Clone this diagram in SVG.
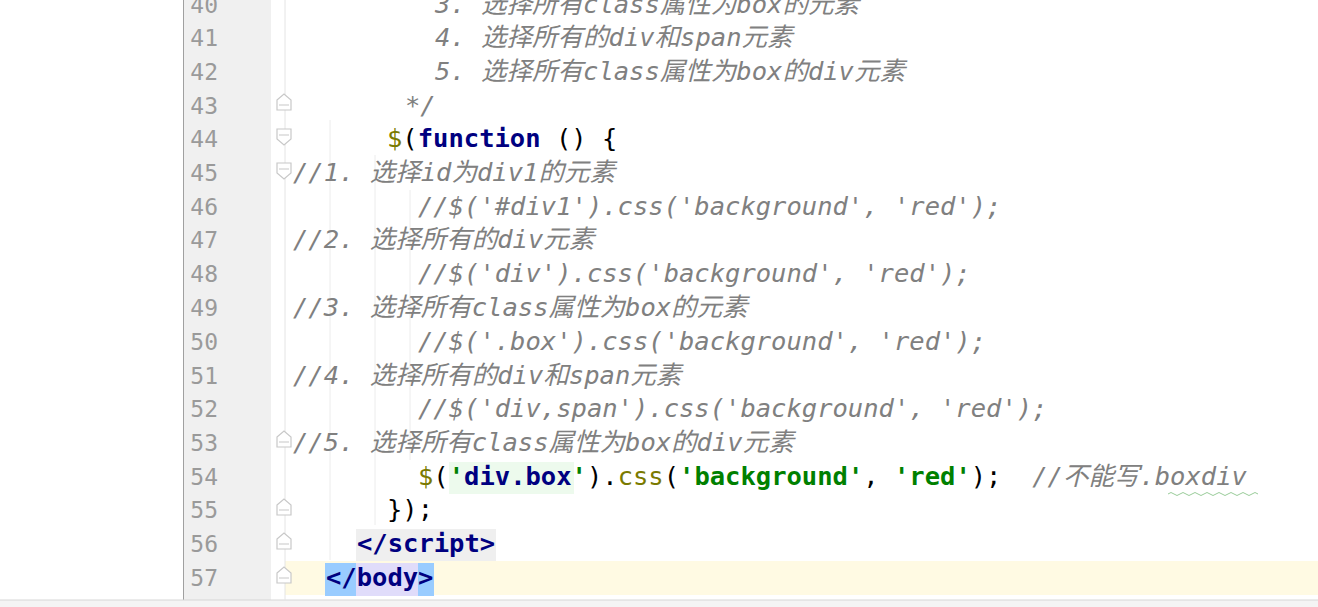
<svg xmlns="http://www.w3.org/2000/svg" width="1318" height="607" viewBox="0 0 1318 607">
<style>
text{font-family:"DejaVu Sans Mono","Liberation Mono","Noto Sans CJK SC",monospace;font-size:25.5px;white-space:pre}
.n{fill:#9a9a9a;text-anchor:end;font-size:23px}
.c{fill:#808080;font-style:italic}
.k{fill:#000080;font-weight:bold}
.o{fill:#7a7a00}
.s{fill:#008000;font-weight:bold}
.p{fill:#000}
.f{fill:#fff;stroke:#c8c8c8;stroke-width:1.2}
</style>
<rect width="1318" height="607" fill="#fff"/>
<rect x="183" y="0" width="88" height="607" fill="#f0f0f0"/>
<line x1="183.5" y1="0" x2="183.5" y2="607" stroke="#a0a0a0"/>
<rect x="285" y="561" width="1033" height="34" fill="#fffae3"/>
<rect x="0" y="600" width="1318" height="7" fill="#f4f4f4"/>
<line x1="0" y1="600" x2="1318" y2="600" stroke="#d6d6d6"/>
<line x1="285" y1="0" x2="285" y2="600" stroke="#e4e4e4"/>
<line x1="330" y1="120" x2="330" y2="560" stroke="#ececec"/>
<line x1="375" y1="155" x2="375" y2="525" stroke="#ececec"/>
<line x1="410" y1="190" x2="410" y2="460" stroke="#ececec"/>
<g id="gutter">
<text class="n" x="218" y="13">40</text>
<text class="n" x="218" y="46">41</text>
<text class="n" x="218" y="80">42</text>
<text class="n" x="218" y="114">43</text>
<text class="n" x="218" y="147">44</text>
<text class="n" x="218" y="181">45</text>
<text class="n" x="218" y="215">46</text>
<text class="n" x="218" y="248">47</text>
<text class="n" x="218" y="282">48</text>
<text class="n" x="218" y="316">49</text>
<text class="n" x="218" y="350">50</text>
<text class="n" x="218" y="384">51</text>
<text class="n" x="218" y="417">52</text>
<text class="n" x="218" y="451">53</text>
<text class="n" x="218" y="485">54</text>
<text class="n" x="218" y="518">55</text>
<text class="n" x="218" y="552">56</text>
<text class="n" x="218" y="586">57</text>
<path class="f" d="M277 100 l7 -6 l7 6 v10 h-14z M279 105 h10"/>
<path class="f" d="M277 129 h14 v10 l-7 6 l-7 -6z M279 135 h10"/>
<path class="f" d="M277 163 h14 v10 l-7 6 l-7 -6z M279 169 h10"/>
<path class="f" d="M277 437 l7 -6 l7 6 v10 h-14z M279 442 h10"/>
<path class="f" d="M277 505 l7 -6 l7 6 v10 h-14z M279 510 h10"/>
<path class="f" d="M277 539 l7 -6 l7 6 v10 h-14z M279 544 h10"/>
<path class="f" d="M277 573 l7 -6 l7 6 v10 h-14z M279 578 h10"/>
</g>
<g id="code">
<text class="c" x="435" y="13">3. 选择所有class属性为box的元素</text>
<text class="c" x="435" y="46">4. 选择所有的div和span元素</text>
<text class="c" x="435" y="80">5. 选择所有class属性为box的div元素</text>
<text class="c" x="405" y="114">*/</text>
<text x="387" y="147"><tspan class="o">$</tspan><tspan class="p">(</tspan><tspan class="k">function</tspan><tspan class="p"> () {</tspan></text>
<text class="c" x="293" y="181">//1. 选择id为div1的元素</text>
<text class="c" x="418" y="215">//$('#div1').css('background', 'red');</text>
<text class="c" x="293" y="248">//2. 选择所有的div元素</text>
<text class="c" x="418" y="282">//$('div').css('background', 'red');</text>
<text class="c" x="293" y="316">//3. 选择所有class属性为box的元素</text>
<text class="c" x="418" y="350">//$('.box').css('background', 'red');</text>
<text class="c" x="293" y="384">//4. 选择所有的div和span元素</text>
<text class="c" x="418" y="417">//$('div,span').css('background', 'red');</text>
<text class="c" x="293" y="451">//5. 选择所有class属性为box的div元素</text>
<rect x="449" y="462" width="125" height="32" fill="#edfaed"/>
<text x="418" y="485"><tspan class="o">$</tspan><tspan class="p">(</tspan><tspan class="s">'</tspan><tspan class="k">div.box</tspan><tspan class="s">'</tspan><tspan class="p">).</tspan><tspan class="o">css</tspan><tspan class="p">(</tspan><tspan class="s">'background'</tspan><tspan class="p">, </tspan><tspan class="s">'red'</tspan><tspan class="p">);  </tspan><tspan class="c">//不能写.boxdiv</tspan></text>
<path d="M1168 494 q3 -3 6 0 t6 0 t6 0 t6 0 t6 0 t6 0 t6 0 t6 0 t6 0 t6 0 t6 0 t6 0 t6 0 t6 0 t6 0" fill="none" stroke="#9c9" stroke-width="1"/>
<text class="p" x="387" y="518">});</text>
<rect x="356" y="529" width="140" height="32" fill="#efefef"/>
<text class="k" x="357" y="552">&lt;/script&gt;</text>
<rect x="325" y="563" width="31" height="33" fill="#99ccff"/>
<rect x="356" y="563" width="62" height="33" fill="#e0dcfa"/>
<rect x="418" y="563" width="16" height="33" fill="#99ccff"/>
<text class="k" x="326" y="586">&lt;/body&gt;</text>
</g>
</svg>
